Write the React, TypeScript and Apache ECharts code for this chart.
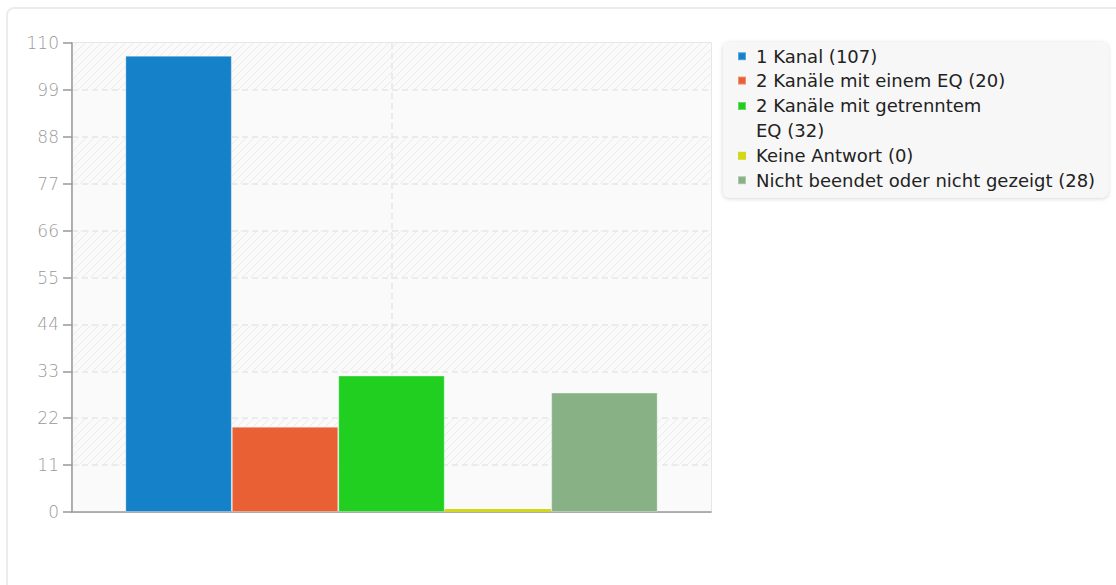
import React, { useEffect, useRef } from "react";
import * as echarts from "echarts";

const seriesNames = [
  "1 Kanal (107)",
  "2 Kanäle mit einem EQ (20)",
  "2 Kanäle mit getrenntem\nEQ (32)",
  "Keine Antwort (0)",
  "Nicht beendet oder nicht gezeigt (28)",
];
const seriesValues = [107, 20, 32, 0, 28];
const seriesColors = ["#1481c8", "#e86034", "#21cf21", "#d3d81c", "#88b285"];
const categories = [""];
const yMax = 110;
const yInterval = 11;

const LINE_H = 24.4;
const ICON_BOX_H = LINE_H * 2;
// square icon on its own (centred) and square aligned with first of two lines
const ICON_SINGLE = "path://M0,0h8v8h-8z";
const ICON_FIRST_LINE = `path://M0,0l0.01,0M0,${LINE_H / 2 - 4}h8v8h-8zM0,${ICON_BOX_H}l0.01,0`;

function makeHatch(): string {
  const c = document.createElement("canvas");
  c.width = 8;
  c.height = 8;
  const ctx = c.getContext("2d")!;
  ctx.fillStyle = "#fafafa";
  ctx.fillRect(0, 0, 8, 8);
  ctx.strokeStyle = "#ebebeb";
  ctx.lineWidth = 1;
  ctx.beginPath();
  ctx.moveTo(0, 8);
  ctx.lineTo(8, 0);
  ctx.moveTo(-4, 4);
  ctx.lineTo(4, -4);
  ctx.moveTo(4, 12);
  ctx.lineTo(12, 4);
  ctx.stroke();
  return c.toDataURL();
}

export default function App() {
  const ref = useRef<HTMLDivElement>(null);
  useEffect(() => {
    document.body.style.margin = "0";
    document.body.style.overflow = "hidden";
    const chart = echarts.init(ref.current!, undefined, { renderer: "svg" });
    const hatch = { image: makeHatch(), repeat: "repeat" };
    const dash = { color: "#e6e6e6", type: [6, 4], width: 1.5 };
    chart.setOption({
      animation: false,
      grid: {
        left: 72,
        top: 43,
        right: 405,
        bottom: 73,
        show: true,
        borderColor: "#e0e0e0",
        borderWidth: 1.5,
        backgroundColor: "transparent",
      },
      legend: {
        orient: "vertical",
        left: 723,
        top: 42,
        padding: [2, 13, 5, 14],
        itemWidth: 8,
        itemHeight: ICON_BOX_H,
        itemGap: 0,
        symbolKeepAspect: true,
        backgroundColor: "#f7f7f7",
        borderRadius: 6,
        shadowBlur: 4,
        shadowColor: "rgba(0,0,0,0.18)",
        shadowOffsetY: 1,
        textStyle: {
          fontFamily: "DejaVu Sans",
          fontSize: 18,
          color: "#222",
          lineHeight: LINE_H,
          padding: [0, 0, 0, 5],
        },
        data: seriesNames.map((name) => ({
          name,
          icon: name.includes("\n") ? ICON_FIRST_LINE : ICON_SINGLE,
        })),
      },
      xAxis: [
        {
          type: "category",
          data: categories,
          axisLine: { lineStyle: { color: "#999", width: 1.5 } },
          axisTick: { show: false },
          axisLabel: { show: false },
          splitLine: { show: false },
        },
        {
          type: "value",
          min: 0,
          max: 2,
          interval: 1,
          show: true,
          position: "bottom",
          axisLine: { show: false },
          axisTick: { show: false },
          axisLabel: { show: false },
          splitLine: { show: true, showMinLine: false, showMaxLine: false, lineStyle: dash },
        },
      ],
      yAxis: {
        type: "value",
        min: 0,
        max: yMax,
        interval: yInterval,
        axisLine: { show: true, lineStyle: { color: "#999", width: 1.5 } },
        axisTick: { show: true, length: 9, lineStyle: { color: "#999", width: 1.5 } },
        axisLabel: {
          color: "#9a9a9a",
          fontFamily: "DejaVu Sans Light, DejaVu Sans",
          fontWeight: 200,
          fontSize: 17,
          margin: 13,
        },
        splitLine: { show: true, showMinLine: false, showMaxLine: false, lineStyle: dash },
        splitArea: { show: true, areaStyle: { color: ["#fafafa", hatch] } },
      },
      series: seriesNames.map((name, i) => ({
        name,
        type: "bar",
        xAxisIndex: 0,
        data: [seriesValues[i]],
        barGap: "0%",
        barCategoryGap: "16.7%",
        barMinHeight: 3,
        itemStyle: {
          color: seriesColors[i],
          borderColor: "rgba(255,255,255,0.3)",
          borderWidth: seriesValues[i] === 0 ? 0 : 1,
        },
      })),
    });
    return () => chart.dispose();
  }, []);
  return (
    <div style={{ position: "relative", width: 1116, height: 585, overflow: "hidden", background: "#fff" }}>
      <div
        style={{
          position: "absolute",
          left: 6,
          top: 7,
          width: 1130,
          height: 600,
          border: "2px solid #ececec",
          borderRadius: 8,
          boxSizing: "border-box",
        }}
      />
      <div ref={ref} style={{ position: "absolute", left: 0, top: 0, width: 1116, height: 585 }} />
    </div>
  );
}
